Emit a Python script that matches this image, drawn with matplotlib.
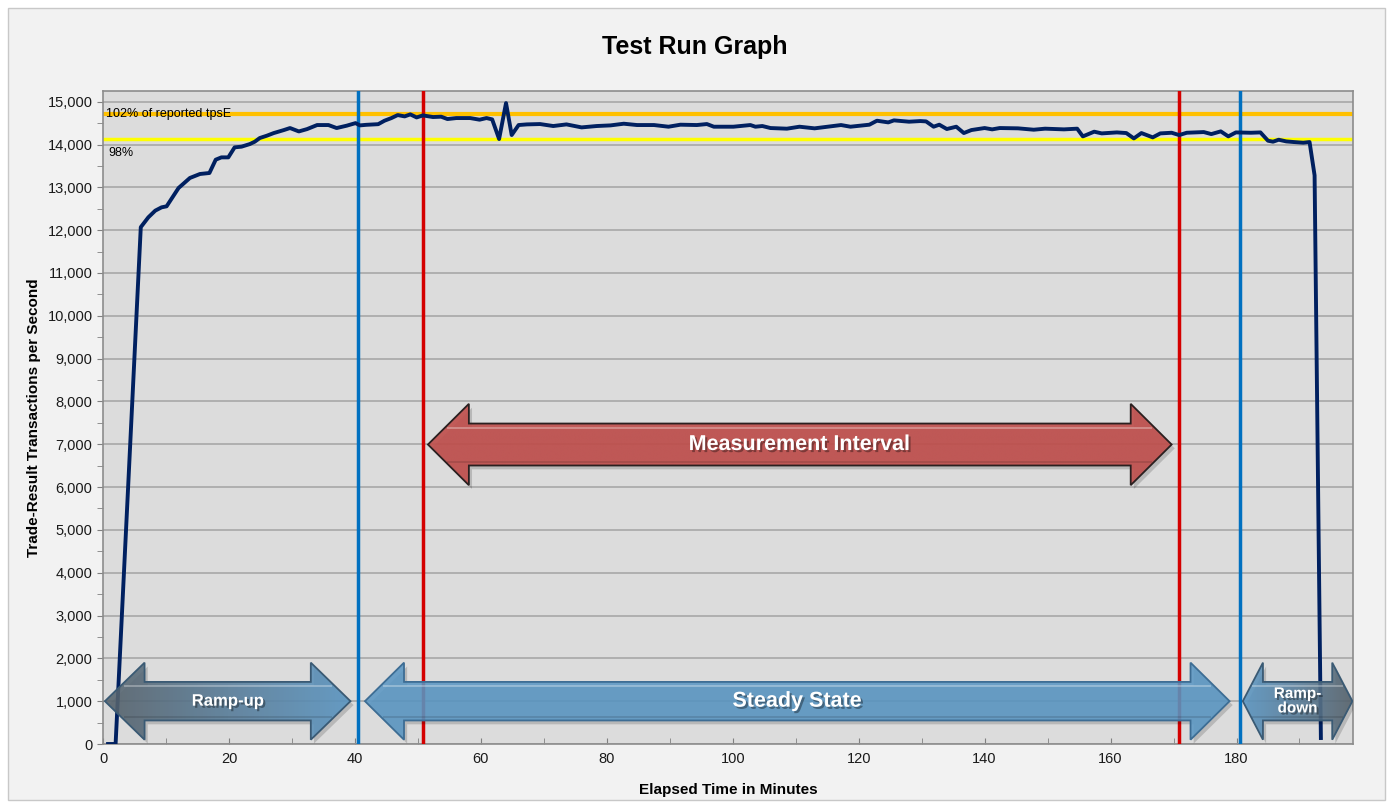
import numpy as np
import matplotlib
matplotlib.use("Agg")
import matplotlib.pyplot as plt
import matplotlib.patheffects as pe
from matplotlib.patches import Polygon, Rectangle
from matplotlib.colors import LinearSegmentedColormap
from matplotlib.ticker import FuncFormatter, MultipleLocator

plt.rcParams['font.family'] = ['Liberation Sans', 'DejaVu Sans']

# elapsed minutes / trade-result tps
minutes = [0.8, 2, 3, 4, 5, 6, 7.2, 8.3, 9.3, 10.1, 12, 13.8, 15.4, 16.9, 17.9, 18.8, 19.9,
           20.9, 22, 23.3, 24.1, 24.9, 26, 27.1, 28.7, 29.7, 31.1, 32.4, 34, 35.8, 37.1,
           38.7, 40.1, 40.8, 41.8, 43.7, 44.7, 45.8, 46.8, 47.9, 48.8, 49.8, 50.8, 52.4,
           53.7, 54.7, 56.1, 58.3, 59.8, 60.9, 61.8, 62.9, 64, 64.9, 66, 67.3, 69.4, 71.5,
           73.6, 76, 78.4, 80.6, 82.7, 84.8, 87.5, 89.8, 91.7, 94.3, 95.9, 97, 100.1, 102.8,
           103.6, 104.7, 106, 108.6, 110.6, 113, 115.1, 117.2, 118.7, 121.7, 122.9, 124.7,
           125.6, 128, 129.8, 130.7, 131.9, 132.8, 134, 135.5, 136.7, 137.9, 140, 141.2,
           142.4, 145.3, 147.8, 149.6, 152.6, 154.7, 155.6, 157.4, 158.6, 161, 162.5, 163.7,
           164.9, 166.7, 167.9, 169.7, 170.9, 172.1, 174.8, 176, 177.5, 178.7, 179.9, 182.3,
           183.8, 185, 185.8, 186.7, 187.9, 189.1, 190.6, 191.6, 192.4, 193.4]
tps = [0, 0, 3000, 6050, 9050, 12070, 12300, 12456, 12533, 12557, 12985, 13219, 13312, 13335,
       13646, 13700, 13700, 13934, 13950, 14010, 14066, 14152, 14205, 14267, 14337, 14385,
       14306, 14360, 14455, 14455, 14385, 14440, 14500, 14447, 14460, 14475, 14556, 14618,
       14688, 14657, 14704, 14633, 14680, 14642, 14650, 14595, 14618, 14618, 14580, 14618,
       14587, 14128, 14968, 14222, 14455, 14470, 14478, 14432, 14470, 14400, 14432, 14447,
       14486, 14455, 14455, 14416, 14463, 14455, 14478, 14416, 14416, 14455, 14416, 14432,
       14385, 14370, 14416, 14378, 14416, 14455, 14416, 14463, 14556, 14517, 14564, 14533,
       14548, 14540, 14416, 14463, 14362, 14416, 14268, 14338, 14385, 14354, 14385, 14378,
       14346, 14370, 14354, 14370, 14190, 14300, 14260, 14283, 14268, 14143, 14268, 14167,
       14260, 14275, 14221, 14275, 14291, 14244, 14307, 14190, 14283, 14275, 14283, 14089,
       14066, 14112, 14073, 14058, 14042, 14058, 13280, 140]

tpsE = 14420
steady_lines = [40.5, 180.5]
measure_lines = [50.8, 170.8]


def double_arrow(ax, x0, x1, yc, head_half, shaft_half, head_len, colors, edge, alpha=0.88):
    pts = [(x0, yc), (x0 + head_len, yc + head_half), (x0 + head_len, yc + shaft_half),
           (x1 - head_len, yc + shaft_half), (x1 - head_len, yc + head_half), (x1, yc),
           (x1 - head_len, yc - head_half), (x1 - head_len, yc - shaft_half),
           (x0 + head_len, yc - shaft_half), (x0 + head_len, yc - head_half)]
    # soft shadow
    sh = [(x + 0.5, y - 90) for x, y in pts]
    ax.add_patch(Polygon(sh, closed=True, facecolor='black', edgecolor='none', alpha=0.16, zorder=5))
    cmap = LinearSegmentedColormap.from_list('arr', colors)
    grad = np.linspace(0, 1, 256).reshape(1, -1)
    im = ax.imshow(grad, extent=(x0, x1, yc - head_half, yc + head_half), aspect='auto',
                   cmap=cmap, alpha=alpha, zorder=6, origin='lower', interpolation='bicubic')
    clip = Polygon(pts, closed=True, facecolor='none', edgecolor=edge, lw=1.3, zorder=7)
    ax.add_patch(clip)
    im.set_clip_path(clip)
    # bevel: light line under the top edge, dark one over the bottom edge
    ax.plot([x0 + head_len * 0.5, x1 - head_len * 0.5], [yc + shaft_half * 0.8] * 2,
            color='white', alpha=0.3, lw=1.4, zorder=7)
    ax.plot([x0 + head_len * 0.5, x1 - head_len * 0.5], [yc - shaft_half * 0.82] * 2,
            color='black', alpha=0.12, lw=1.4, zorder=7)


fig = plt.figure(figsize=(13.92, 8.07), dpi=100, facecolor='white')
fig.patches.append(Rectangle((8 / 1392, 7 / 807), 1377 / 1392, 792 / 807, transform=fig.transFigure,
                             facecolor='#f2f2f2', edgecolor='#c8c8c8', lw=1, zorder=-5))
ax = fig.add_axes([103 / 1392, 63 / 807, 1250 / 1392, 653 / 807])
ax.set_facecolor('#dcdcdc')

ax.set_xlim(0, 198.5)
ax.set_ylim(0, 15250)
ax.yaxis.set_major_locator(MultipleLocator(1000))
ax.yaxis.set_minor_locator(MultipleLocator(500))
ax.xaxis.set_major_locator(MultipleLocator(20))
ax.xaxis.set_minor_locator(MultipleLocator(10))
ax.yaxis.set_major_formatter(FuncFormatter(lambda v, p: f"{int(v):,}"))
ax.grid(axis='y', which='major', color='#a8a8a8', lw=1.2, zorder=1)
ax.set_axisbelow(True)
ax.tick_params(axis='y', which='both', direction='out', length=4, color='#808080',
               labelsize=10.5, labelcolor='#1a1a1a')
ax.tick_params(axis='x', which='both', direction='in', length=4, color='#808080',
               labelsize=10.5, labelcolor='#1a1a1a', pad=6)
for s in ax.spines.values():
    s.set_color('#8c8c8c')
    s.set_linewidth(1.2)

ax.axhline(tpsE * 1.02, color='#ffc000', lw=3, zorder=2)
ax.axhline(tpsE * 0.98, color='#ffff00', lw=2.5, zorder=2)
ax.text(0.4, tpsE * 1.02, '102% of reported tpsE', fontsize=9, va='center', ha='left', zorder=3)
ax.text(0.8, tpsE * 0.98 - 330, '98%', fontsize=9, va='center', ha='left', zorder=3)

for x in steady_lines:
    ax.axvline(x, color='#0070c0', lw=2.5, zorder=3)
for x in measure_lines:
    ax.axvline(x, color='#d40000', lw=2.5, zorder=3)

ax.plot(minutes, tps, color='#002060', lw=2.8, zorder=4)

blue = '#5b97c4'
gray = '#56626b'
double_arrow(ax, 0.3, 39.3, 1000, 900, 450, 6.3, [gray, '#5a7f9c', blue], '#3a5a74')
double_arrow(ax, 41.6, 178.9, 1000, 900, 450, 6.2, [blue, blue], '#3d6d94')
double_arrow(ax, 181.0, 198.4, 1000, 900, 450, 3.2, [blue, '#5a7f9c', gray], '#3a5a74')
double_arrow(ax, 51.6, 169.7, 6994, 950, 490, 6.5, ['#c0504d', '#c0504d'], '#2a2020', alpha=0.92)

shadow = [pe.SimplePatchShadow(offset=(1.5, -1.5), shadow_rgbFace='black', alpha=0.35), pe.Normal()]
ax.text(19.8, 1000, 'Ramp-up', color='white', fontsize=12, fontweight='bold',
        ha='center', va='center', zorder=8, path_effects=shadow)
ax.text(110.2, 1000, 'Steady State', color='white', fontsize=15.5, fontweight='bold',
        ha='center', va='center', zorder=8, path_effects=shadow)
ax.text(189.7, 1000, 'Ramp-\ndown', color='white', fontsize=11, fontweight='bold',
        ha='center', va='center', linespacing=1.05, zorder=8, path_effects=shadow)
ax.text(110.6, 6994, 'Measurement Interval', color='white', fontsize=15.5, fontweight='bold',
        ha='center', va='center', zorder=8, path_effects=shadow)

ax.set_xlim(0, 198.5)
ax.set_ylim(0, 15250)
ax.set_xlabel('Elapsed Time in Minutes', fontsize=11, fontweight='bold', labelpad=12)
ax.set_ylabel('Trade-Result Transactions per Second', fontsize=11, fontweight='bold', labelpad=5)
fig.text(0.499, 1 - 47 / 807, 'Test Run Graph', fontsize=18, fontweight='bold', ha='center', va='center')

fig.savefig('out.png', dpi=100, facecolor=fig.get_facecolor())
